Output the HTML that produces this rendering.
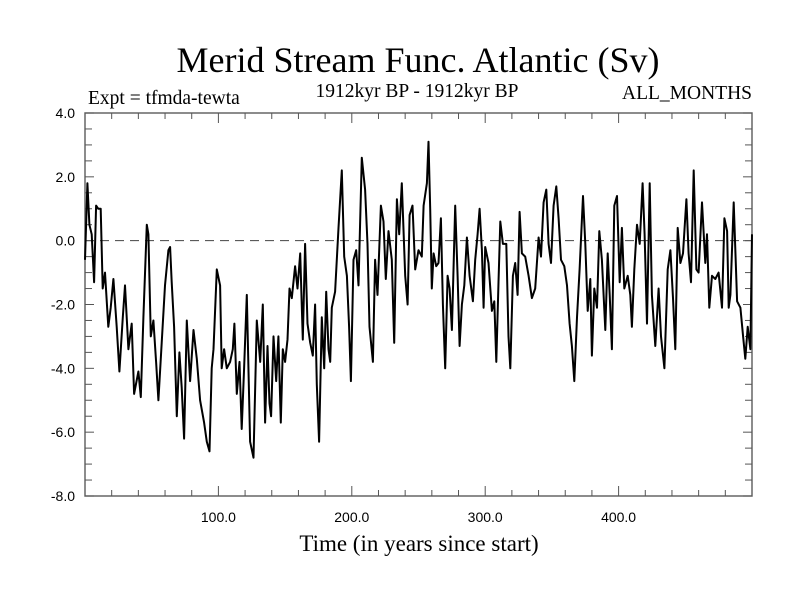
<!DOCTYPE html>
<html><head><meta charset="utf-8"><style>
html,body{margin:0;padding:0;background:#fff;}
svg{display:block;}
.serif{font-family:"Liberation Serif",serif;}
.sans{font-family:"Liberation Sans",sans-serif;}
</style></head><body>
<svg id="chart" width="800" height="600" viewBox="0 0 800 600">
<rect x="0" y="0" width="800" height="600" fill="#fff"/>
<text class="serif" x="418" y="72" font-size="36" text-anchor="middle">Merid Stream Func. Atlantic (Sv)</text>
<text class="serif" x="88" y="104" font-size="19.5">Expt = tfmda-tewta</text>
<text class="serif" x="417" y="97" font-size="19.5" text-anchor="middle">1912kyr BP - 1912kyr BP</text>
<text class="serif" x="752" y="99" font-size="19.5" text-anchor="end">ALL_MONTHS</text>
<text class="serif" x="419" y="551" font-size="23" text-anchor="middle">Time (in years since start)</text>
<g id="axes"></g>
<g id="plot"></g>
</svg>
<script>
const years=[0,1.8,3.3,5,6.8,8.3,10,11.8,13.3,15,17.5,19.3,21.3,23.8,25.8,28.3,30,32.5,35,36.8,40,41.8,43.8,46.3,47.5,49.3,51.3,53.3,55,57.5,60,62.5,63.8,65,66.8,68.8,70.8,72.5,74.3,76.3,78.8,81.3,83.8,86.3,89.3,91.3,93.3,95,96.3,98.8,101.3,102.5,104.3,106.3,108.8,110.8,112,113.8,115.8,117.5,119.3,121.3,123.8,126.3,128.8,
131.3,133.3,135,136.8,138.3,139.5,141.3,143.3,145,146.8,148.3,150,151.8,153.3,155,157.5,159.3,161.3,163.3,165,166.8,168.8,170.8,172.5,173.8,175.5,177.5,179.3,180.8,182.5,183.8,185,187.5,190,192.5,194.3,196.3,198,199.3,201.3,203.3,205,207.5,210,211.8,213.3,215.8,217.5,219.3,221.8,223.8,225.5,227.5,230,231.8,233.8,235.5,237.5,240,241.8,243.3,245.5,247.5,250,252.5,253.8,256.3,257.5,
258.8,260,261.3,263.3,265,266.8,268.3,270,271.8,273.3,275,277.5,279.3,280.8,282.5,284.3,286.3,288.3,290.8,292.5,294.3,295.8,297.5,298.8,300,302.5,305,306.8,308.3,310,311.3,313.3,315.8,317.5,318.8,320.8,322.5,324.3,325.8,327.5,330,332.5,335,337.5,340,341.8,343.8,345.8,347.5,349.3,351.3,353.3,355,356.8,359.3,361.3,363.3,365,366.8,368.8,370.8,373.3,375,376.8,378.8,380,381.8,383.8,385.5,
387.5,390,391.8,393.3,395,396.8,398.8,400.8,402.5,404.3,406.8,408.8,410,411.8,413.8,415.8,418,419.5,421.3,423.3,425,427.5,430,431.8,434.3,436.8,438.8,440.8,442.5,444.3,446.3,448.3,450.8,452.5,454.3,456.3,458.3,460,462.5,465,466.3,468,470,472.5,475,477.5,479.3,481.3,482.5,483.8,486.3,488.8,491.3,493.3,495,496.8,498.8,500];
const values=[-0.6,1.8,0.5,0.2,-1.3,1.1,1.0,1.0,-1.5,-1.0,-2.7,-2.1,-1.2,-2.7,-4.1,-2.4,-1.4,-3.4,-2.6,-4.8,-4.1,-4.9,-2.4,0.5,0.2,-3.0,-2.5,-3.8,-5.0,-3.2,-1.4,-0.3,-0.2,-1.3,-2.7,-5.5,-3.5,-4.6,-6.2,-2.5,-4.4,-2.8,-3.7,-5.0,-5.7,-6.3,-6.6,-4.0,-3.4,-0.9,-1.4,-4.0,-3.4,-4.0,-3.8,-3.4,-2.6,-4.8,-3.8,-5.9,-4.0,-1.7,-6.3,-6.8,-2.5,
-3.8,-2.0,-5.7,-3.3,-5.1,-5.5,-3.0,-4.4,-3.0,-5.7,-3.4,-3.8,-3.1,-1.5,-1.8,-0.8,-1.5,-0.4,-3.1,-0.1,-2.6,-3.2,-3.6,-2.0,-4.5,-6.3,-2.4,-4.0,-1.6,-3.4,-3.8,-2.1,-1.6,0.4,2.2,-0.5,-1.1,-2.7,-4.4,-0.6,-0.3,-1.4,2.6,1.6,-0.1,-2.7,-3.8,-0.6,-1.7,1.1,0.6,-1.2,0.3,-0.6,-3.2,1.3,0.2,1.8,-1.1,-2.0,0.8,1.1,-0.9,-0.3,-0.5,1.1,1.8,3.1,
1.0,-1.5,-0.4,-0.8,-0.7,0.7,-2.0,-4.0,-1.1,-1.5,-2.8,1.1,-1.1,-3.3,-2.0,-1.4,0.1,-1.1,-1.9,-0.6,0.2,1.0,-0.3,-2.1,-0.2,-0.7,-2.2,-1.9,-3.8,-1.3,0.6,-0.1,-0.1,-3.0,-4.0,-1.1,-0.7,-1.7,0.9,-0.4,-0.5,-1.1,-1.8,-1.5,0.1,-0.5,1.2,1.6,-0.1,-0.7,1.1,1.7,0.7,-0.6,-0.8,-1.4,-2.6,-3.3,-4.4,-2.4,-0.9,1.4,-0.1,-2.2,-1.2,-3.6,-1.5,-2.1,0.3,
-0.6,-2.8,-0.4,-1.7,-3.4,1.1,1.4,-1.3,0.4,-1.5,-1.1,-1.7,-2.7,-0.9,0.5,-0.1,1.8,0.2,-2.6,1.8,-1.7,-3.3,-1.5,-3.0,-4.0,-0.9,-0.3,-1.8,-3.4,0.4,-0.7,-0.4,1.3,-0.4,-1.3,2.2,-0.9,-1.0,1.2,-0.7,0.2,-2.1,-1.1,-1.2,-1.0,-2.1,0.7,0.3,-2.1,-1.7,1.2,-1.9,-2.1,-3.0,-3.7,-2.7,-3.4,0.2];
const yTickLabels=["4.0","2.0","0.0","-2.0","-4.0","-6.0","-8.0"];
const yTickValues=[4,2,0,-2,-4,-6,-8];
const xTickLabels=["100.0","200.0","300.0","400.0"];
const xTickValues=[100,200,300,400];

const L=85,R=752,T=113,B=496,XMIN=0,XMAX=500,YMIN=-8,YMAX=4;
const sx=v=>L+(v-XMIN)/(XMAX-XMIN)*(R-L);
const sy=v=>B-(v-YMIN)/(YMAX-YMIN)*(B-T);
const NS="http://www.w3.org/2000/svg";
const axes=document.getElementById('axes'),plot=document.getElementById('plot');
function mk(tag,attrs,parent){const e=document.createElementNS(NS,tag);for(const k in attrs)e.setAttribute(k,attrs[k]);parent.appendChild(e);return e;}

const z=mk('line',{x1:L,x2:R,y1:sy(0),y2:sy(0),stroke:'#444','stroke-width':1,'stroke-dasharray':'9,6'},axes);



let d='';
for(let i=0;i<years.length;i++){d+=(i?'L':'M')+sx(years[i]).toFixed(1)+' '+sy(values[i]).toFixed(1);}
const p=mk('path',{d:d,fill:'none',stroke:'#000','stroke-width':2,'stroke-linejoin':'round'},plot);



const fr=mk('rect',{x:L,y:T,width:R-L,height:B-T,fill:'none',stroke:'#666','stroke-width':1.5},axes);



for(let v=YMIN;v<=YMAX+1e-9;v+=0.5){
  const major=Math.abs(v/2-Math.round(v/2))<1e-9;
  const len=major?9:7;
  const t1=mk('line',{x1:L,x2:L+len,y1:sy(v),y2:sy(v),stroke:'#555','stroke-width':1},axes);
  
  
  const t2=mk('line',{x1:R,x2:R-len,y1:sy(v),y2:sy(v),stroke:'#555','stroke-width':1},axes);
  
  
}
yTickValues.forEach((v,i)=>{
  const t=mk('text',{x:75,y:sy(v)+5,'font-size':14,'text-anchor':'end','class':'sans'},axes);
  t.textContent=yTickLabels[i];
  
  
});
for(let v=20;v<XMAX;v+=20){
  const major=v%100===0;
  const len=major?10:6;
  const t1=mk('line',{x1:sx(v),x2:sx(v),y1:B,y2:B-len,stroke:'#555','stroke-width':1},axes);
  
  
  const t2=mk('line',{x1:sx(v),x2:sx(v),y1:T,y2:T+len,stroke:'#555','stroke-width':1},axes);
  
  
}
xTickValues.forEach((v,i)=>{
  const t=mk('text',{x:sx(v),y:522,'font-size':14,'text-anchor':'middle','class':'sans'},axes);
  t.textContent=xTickLabels[i];
  
  
});
</script>
</body></html>
